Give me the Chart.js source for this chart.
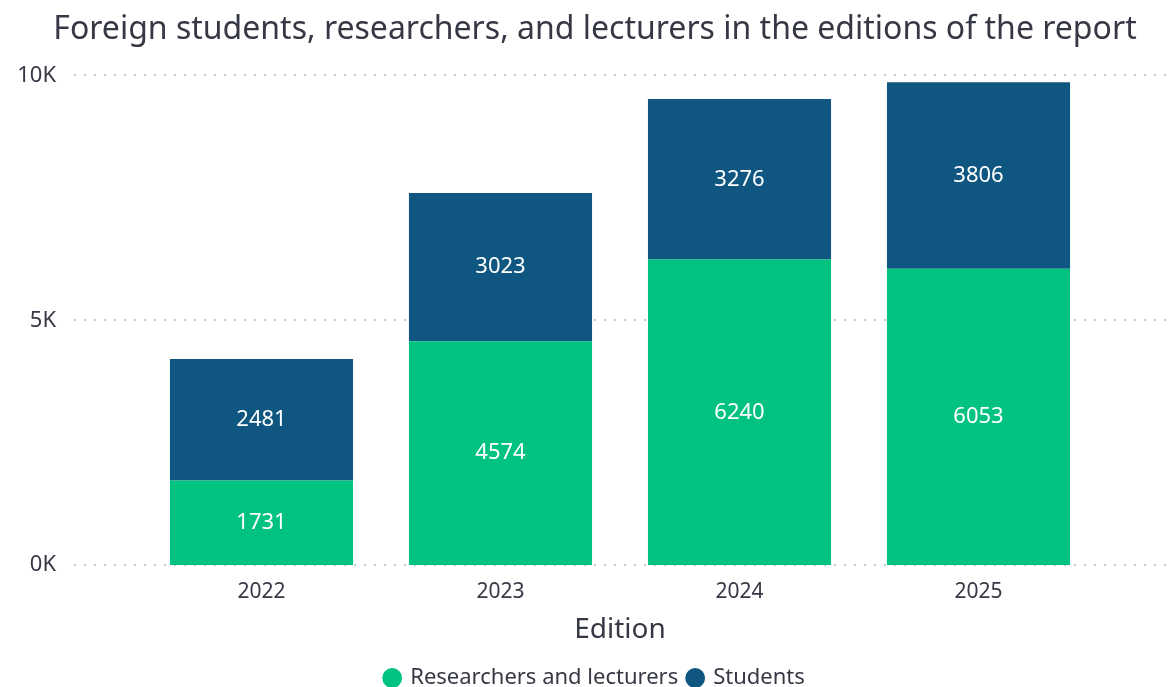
<!DOCTYPE html>
<html>
<head>
<meta charset="utf-8">
<script src="https://cdn.jsdelivr.net/npm/chart.js@4"></script>
<style>
  html, body { margin: 0; padding: 0; background: #fff; }
  #wrap { width: 1173px; height: 687px; }
</style>
</head>
<body>
<div id="wrap"><canvas id="editionChart"></canvas></div>
<script>
const editions = ['2022', '2023', '2024', '2025'];
const researchers = [1731, 4574, 6240, 6053];
const students = [2481, 3023, 3276, 3806];
const yTicks = [0, 5000, 10000];

const FONT = "'Noto Sans', 'Open Sans', sans-serif";
const TEXT = '#363945';

// dotted gridlines that run past the plot area, like the original
const dottedGrid = {
    id: 'dottedGrid',
    beforeDatasetsDraw(chart) {
        const c = chart.ctx;
        const y = chart.scales.y;
        c.save();
        c.fillStyle = '#c8c8c8';
        yTicks.forEach(function (v) {
            const py = Math.round(y.getPixelForValue(v));
            for (let x = 74; x < chart.width - 4; x += 10) {
                c.fillRect(x, py - 1, 2, 2);
            }
        });
        c.restore();
    }
};

// white value labels in the middle of each segment
const segmentLabels = {
    id: 'segmentLabels',
    afterDatasetsDraw(chart) {
        const c = chart.ctx;
        c.save();
        c.fillStyle = '#ffffff';
        c.font = '22px ' + FONT;
        c.textAlign = 'center';
        c.textBaseline = 'middle';
        chart.data.datasets.forEach(function (ds, i) {
            chart.getDatasetMeta(i).data.forEach(function (bar, j) {
                c.fillText(String(ds.data[j]), bar.x, (bar.y + bar.base) / 2);
            });
        });
        c.restore();
    }
};

new Chart(document.getElementById('editionChart'), {
    type: 'bar',
    data: {
        labels: editions,
        datasets: [{
            label: 'Researchers and lecturers',
            data: researchers,
            backgroundColor: '#01c37f'
        }, {
            label: 'Students',
            data: students,
            backgroundColor: '#0f5781'
        }]
    },
    options: {
        responsive: true,
        maintainAspectRatio: false,
        animation: false,
        layout: { padding: { left: 17, right: 0, top: 0, bottom: -12 } },
        datasets: {
            bar: { categoryPercentage: 1, barPercentage: 0.766 }
        },
        scales: {
            x: {
                stacked: true,
                grid: { display: false },
                border: { display: false },
                ticks: { color: TEXT, font: { family: FONT, size: 21 }, padding: 6 },
                title: {
                    display: true,
                    text: 'Edition',
                    color: TEXT,
                    font: { family: FONT, size: 28 },
                    padding: { top: 3, bottom: 10 }
                }
            },
            y: {
                stacked: true,
                min: 0,
                max: 10000,
                afterBuildTicks(axis) {
                    axis.ticks = yTicks.map(v => ({ value: v }));
                },
                afterFit(axis) { axis.width = 125; },
                // long (hidden) tick marks push the labels out to the left edge
                grid: { display: false, tickLength: 83 },
                border: { display: false },
                ticks: {
                    color: TEXT,
                    font: { family: FONT, size: 22 },
                    padding: 3,
                    callback: v => (v / 1000) + 'K'
                }
            },
            spacer: {
                position: 'right',
                display: true,
                afterFit(axis) { axis.width = 75; },
                grid: { display: false },
                border: { display: false },
                ticks: { display: false }
            }
        },
        plugins: {
            title: {
                display: true,
                text: 'Foreign students, researchers, and lecturers in the editions of the report',
                color: TEXT,
                font: { family: FONT, size: 32, weight: 'normal' },
                padding: { top: 11, bottom: 26 }
            },
            legend: {
                position: 'bottom',
                labels: {
                    color: TEXT,
                    font: { family: FONT, size: 22 },
                    usePointStyle: true,
                    pointStyle: 'circle',
                    boxWidth: 14,
                    boxHeight: 14,
                    padding: 10
                }
            },
            tooltip: { enabled: false }
        }
    },
    plugins: [dottedGrid, segmentLabels]
});
</script>
</body>
</html>
